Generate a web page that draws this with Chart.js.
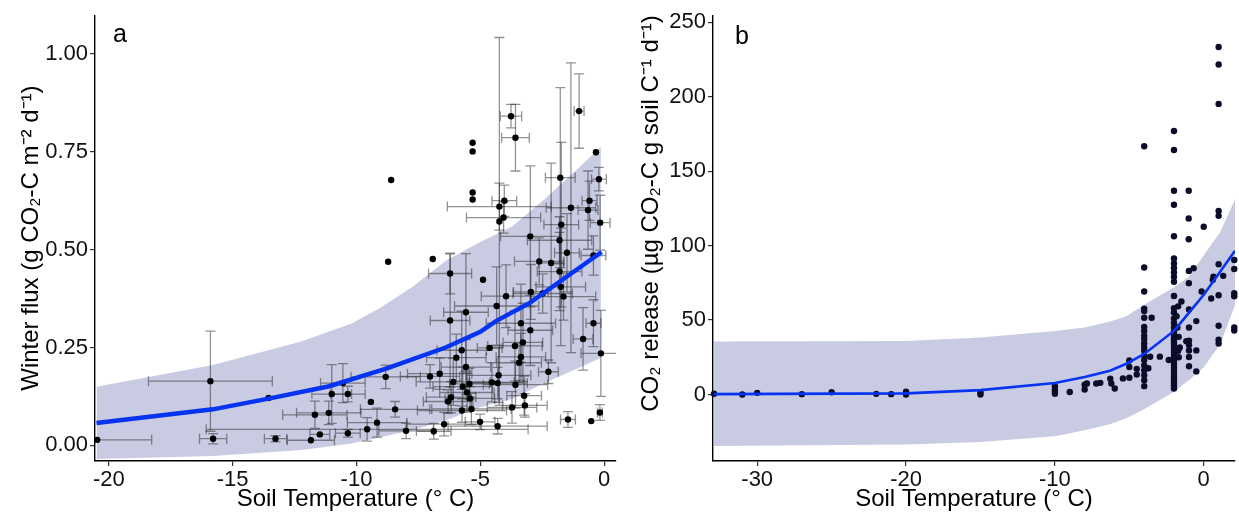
<!DOCTYPE html>
<html><head><meta charset="utf-8">
<script src="https://cdn.jsdelivr.net/npm/chart.js@4.4.1/dist/chart.umd.min.js"></script>
<style>
html,body{margin:0;padding:0;background:#fff;width:1239px;height:522px;overflow:hidden}
#wa{position:absolute;left:0;top:0;width:620px;height:522px}
#wb{position:absolute;left:620px;top:0;width:619px;height:522px}
</style></head><body>
<div id="wa"><canvas id="ca"></canvas></div>
<div id="wb"><canvas id="cb"></canvas></div>
<script>
// ---------- Panel a data ----------
const aTempTicks = [-20, -15, -10, -5, 0];
const aFluxTicks = [0, 0.25, 0.5, 0.75, 1.0];
const aTemp = [-20.47,-15.9,-15.79,-13.55,-13.27,-11.84,-11.68,-11.48,-11.12,-11.0,
-10.55,-10.35,-10.35,-9.42,-9.57,-9.17,-8.82,-8.44,-8.72,-8.6,
-8.0,-7.03,-6.92,-6.88,-6.64,-6.46,-6.3,-6.22,-6.22,-6.18,
-6.09,-5.97,-5.75,-5.74,-5.71,-5.58,-5.58,-5.54,-5.44,-5.42,
-5.36,-5.31,-5.31,-5.31,-5.31,-5.01,-4.89,-4.62,-4.53,-4.34,
-4.3,-4.3,-4.26,-4.23,-4.23,-4.06,-4.03,-3.96,-3.76,-3.72,
-3.58,-3.6,-3.58,-3.43,-3.36,-3.36,-3.28,-3.23,-3.2,-2.98,
-2.98,-2.96,-2.62,-2.48,-2.25,-2.14,-1.8,-1.77,-1.73,-1.8,
-1.75,-1.64,-1.5,-1.46,-1.34,-1.01,-0.85,-0.65,-0.59,-0.52,
-0.43,-0.43,-0.33,-0.21,-0.16,-0.17,-0.13];
const aFlux = [0.014,0.164,0.017,0.121,0.017,0.013,0.078,0.028,0.083,0.131,
0.159,0.131,0.031,0.111,0.041,0.058,0.175,0.092,0.469,0.678,
0.037,0.176,0.476,0.036,0.183,0.054,0.112,0.439,0.319,0.123,
0.162,0.224,0.243,0.089,0.15,0.34,0.2,0.135,0.157,0.12,
0.093,0.773,0.751,0.646,0.628,0.06,0.423,0.249,0.161,0.356,
0.159,0.049,0.179,0.61,0.572,0.582,0.625,0.381,0.841,0.097,
0.786,0.254,0.155,0.211,0.312,0.226,0.263,0.127,0.102,0.534,
0.294,0.392,0.47,0.388,0.188,0.466,0.524,0.684,0.564,0.444,
0.405,0.38,0.492,0.066,0.607,0.854,0.272,0.601,0.625,0.062,
0.485,0.312,0.749,0.68,0.569,0.084,0.235];
const aTempErr = [2.2,2.5,0.55,0,0.45,0.95,1.3,0.4,1.3,0.8,
0.9,0.7,0.5,0,6.5,1.2,1.4,1.4,0,0,
1.1,1.2,0,0.7,1.3,1.5,1.0,0.87,0.8,1.0,
1.5,1.2,1.0,1.8,1.2,0.9,1.0,1.1,0.8,1.0,
1.6,0,0,0,0,0.6,0,0.5,0.9,1.7,
1.2,2.0,1.3,2.1,0,1.5,0.5,1.0,0.43,1.0,
0.56,1.1,1.3,0.9,1.4,1.0,0.8,0.7,0.9,1.2,
0.9,0.7,1.0,1.2,0.4,0.5,1.3,0.6,0.7,0.9,
1.0,1.3,0.5,0.3,1.0,0.2,0.4,0.4,0.3,0,
0.5,0.3,0,0.3,0.4,0.1,0.8];
const aFluxErr = [0,0.128,0.013,0,0.008,0,0.035,0,0.03,0.075,
0.05,0.02,0.01,0,0.03,0.037,0.03,0.02,0,0,
0.02,0.03,0,0.02,0.04,0.03,0.03,0.052,0.17,0.04,
0.06,0.06,0.1,0.03,0.05,0.15,0.07,0.05,0.04,0.03,
0.04,0,0,0,0,0.02,0,0,0.05,0.1,
0.04,0.02,0.07,0.06,0.47,0.04,0.04,0.08,0.03,0.04,
0.085,0.09,0.06,0.05,0.1,0.06,0.1,0.05,0.03,0.18,
0.09,0.07,0.06,0.05,0.03,0.255,0.06,0.23,0.21,0.1,
0.15,0.06,0.1,0.02,0.37,0.095,0.08,0.1,0.05,0,
0.05,0.06,0,0.03,0.07,0.02,0.11];
const aFitTemp = [-20.5,-15.8,-13.5,-11.1,-8.8,-6.4,-5.0,-4.35,-3.0,-1.8,-0.1];
const aFitFlux = [0.057,0.092,0.12,0.151,0.196,0.25,0.29,0.318,0.364,0.418,0.494];
const aBandTemp = [-20.5,-15.8,-12.2,-10.2,-9.07,-7.73,-6.38,-5.04,-3.7,-2.35,-1.01,-0.13];
const aBandHi = [0.150,0.205,0.266,0.311,0.35,0.405,0.472,0.518,0.56,0.632,0.71,0.763];
const aBandLo = [-0.035,-0.027,-0.012,0.005,0.02,0.039,0.064,0.097,0.119,0.161,0.198,0.224];

// ---------- Panel b data ----------
const bTempTicks = [-30, -20, -10, 0];
const bReleaseTicks = [0, 50, 100, 150, 200, 250];
const bTemp = [-32.9,-31,-30,-27,-25,-22,-21,-20,-20,-15,-15,
-10,-10,-10,-10,-9,-8,-8,-7.85,-7.22,-6.95,-6.28,-6.21,-5.98,-5.43,-5,-5,-5,-4.5,-4.5,
-4,-4,-4,-4,-4,-4,-4,-4,-4,-4,-4,-4,-4,-4,-4,-4,-4,-4,-4,-4,
-3.5,-3.72,-3.6,-2.95,-2.35,
-2,-2,-2,-2,-2,-2,-2,-2,-2,-2,-2,-2,-2,-2,-2,-2,-2,-2,-2,-2,-2,-2,-2,-2,-2,-2,-2,-2,-2,-2,-2,-2,-2,-2,-2,-2,-2,
-1.72,-1.5,-1.83,-1.77,-1.68,-1.68,-1.72,-1.61,
-1.01,-1.01,-1.01,-1,-0.68,-1,-0.99,-0.99,-0.99,-0.99,-0.99,-0.99,-0.99,-1.17,-0.5,-0.5,-0.5,-0.14,0,
1,1,1,1,1,1,1,1,1,1,0.61,0.5,0.65,1.31,
2.05,2.05,2.05,2.05,2.05,2.05];
const bRelease = [0.5,0,1.1,0.2,1.5,0.4,0.2,1.8,0,1.5,0,
5.5,3.3,1.8,0.4,1.7,6.6,3.3,7.4,7.4,7.8,10.6,7.4,4,10.8,11.2,18.5,22.8,17.2,13.4,
166.8,85.3,69.2,57.7,56,51.5,45.3,42.7,39.4,37.2,34.3,31.6,29.4,26.1,23.2,19.5,16.2,12.9,9.6,5.6,
51.5,17.6,25.3,25.4,23.2,
177,164.2,136.9,127.5,106.3,91.3,88,85,82,79,75.7,66.2,58,55,51,48,45,42,40,38,36,34,32,30,28,26,24,22,20,18,16,14,12,10,8,6,4,
59.2,62.5,52.6,45,38.7,25,29.4,31.6,
136.9,118.2,104.3,83,84.8,74.8,57.1,45,36.2,33.3,29.6,25.2,19,35.8,49.3,29.6,15.5,69.2,112.7,
233.4,221.7,195.2,123.3,120,87.5,66.7,46.2,36.8,34.2,77,64.5,79.1,79.7,
90.3,84.3,68,66,45,43];
const bFitTemp = [-32.9,-20,-15,-10,-8,-6.3,-5.2,-4,-2,-1,0,1.1,2.1];
const bFitRelease = [0.2,0.7,2.9,7.7,11.7,16,20.6,27.2,42.7,54.8,67,82.5,96.5];
const bBandHi = [35.6,36,38.2,42.7,45,49,52.6,60.3,72,79.1,93.5,109,131];
const bBandLo = [-34.7,-33.6,-32,-28.1,-24,-20,-16,-10,1.8,9.5,18.3,33.8,60];

// ---------- styling ----------
const FONT = '"Liberation Sans", Arial, sans-serif';
const BLUE = 'rgb(6,52,242)';
const BAND = 'rgb(201,203,227)';
const tickFont = {family: FONT, size: 22};
const titleFont = {family: FONT, size: 24};

const pts = (xs, ys) => xs.map((x, i) => ({x: x, y: ys[i]}));
const fixedTicks = arr => s => { s.ticks = arr.map(v => ({value: v})); };

const errorBars = {
  id: 'errorBars',
  beforeDatasetDraw(chart, args) {
    const ds = chart.data.datasets[args.index];
    if (!ds.xErr) return;
    const {ctx, chartArea: ca} = chart;
    const xs = chart.scales.x, ys = chart.scales.y;
    ctx.save();
    ctx.beginPath(); ctx.rect(ca.left, ca.top, ca.right - ca.left, ca.bottom - ca.top); ctx.clip();
    ctx.strokeStyle = 'rgba(40,40,40,0.5)';
    ctx.lineWidth = 1.3;
    const cap = 5;
    ds.data.forEach((p, i) => {
      const px = xs.getPixelForValue(p.x), py = ys.getPixelForValue(p.y);
      const xe = ds.xErr[i], ye = ds.yErr[i];
      ctx.beginPath();
      if (xe > 0) {
        const l = xs.getPixelForValue(p.x - xe), r = xs.getPixelForValue(p.x + xe);
        ctx.moveTo(l, py); ctx.lineTo(r, py);
        ctx.moveTo(l, py - cap); ctx.lineTo(l, py + cap);
        ctx.moveTo(r, py - cap); ctx.lineTo(r, py + cap);
      }
      if (ye > 0) {
        const t = ys.getPixelForValue(p.y + ye), b = ys.getPixelForValue(p.y - ye);
        ctx.moveTo(px, t); ctx.lineTo(px, b);
        ctx.moveTo(px - cap, t); ctx.lineTo(px + cap, t);
        ctx.moveTo(px - cap, b); ctx.lineTo(px + cap, b);
      }
      ctx.stroke();
    });
    ctx.restore();
  }
};

const panelLabel = {
  id: 'panelLabel',
  afterDraw(chart, args, opts) {
    const {ctx, chartArea} = chart;
    ctx.save();
    ctx.font = '25px ' + FONT;
    ctx.fillStyle = '#000';
    ctx.textAlign = 'center';
    ctx.textBaseline = 'middle';
    ctx.fillText(opts.text, chartArea.left + opts.dx, chartArea.top + opts.dy);
    ctx.restore();
  }
};

function axis(min, max, ticks, fmt, title, isX, titleAlign, titlePad) {
  return {
    type: 'linear', min: min, max: max,
    afterBuildTicks: fixedTicks(ticks),
    afterFit: isX ? (s => { s.height = 61; }) : null,
    ticks: {font: tickFont, color: '#111', padding: isX ? 1 : 2, maxRotation: 0, autoSkip: false, callback: fmt},
    grid: {drawOnChartArea: false, drawTicks: true, tickLength: 5, color: '#333', lineWidth: 1.2},
    border: {display: true, color: '#000', width: 1.4},
    title: {display: true, text: title, font: titleFont, color: '#000', align: titleAlign, padding: titlePad}
  };
}

function makeChart(id, cfg) {
  return new Chart(document.getElementById(id), {
    type: 'scatter',
    data: {datasets: [
      {label: 'fit', data: pts(cfg.fitX, cfg.fitY), showLine: true, borderColor: BLUE, borderWidth: cfg.lw,
       pointRadius: 0, fill: false, order: 0, tension: 0},
      {label: 'obs', data: pts(cfg.x, cfg.y), xErr: cfg.xErr, yErr: cfg.yErr, pointRadius: 3.2,
       backgroundColor: cfg.pc, borderWidth: 0, order: 1, clip: false},
      {label: 'upper', data: pts(cfg.fitX2 || cfg.fitX, cfg.hi), showLine: true, borderWidth: 0, pointRadius: 0,
       backgroundColor: BAND, borderColor: BAND, fill: '+1', order: 2},
      {label: 'lower', data: pts(cfg.fitX2 || cfg.fitX, cfg.lo), showLine: true, borderWidth: 0, pointRadius: 0,
       backgroundColor: BAND, borderColor: BAND, fill: false, order: 3}
    ]},
    options: {
      responsive: true, maintainAspectRatio: false, animation: false, devicePixelRatio: 1, events: [],
      layout: {padding: cfg.pad},
      plugins: {legend: {display: false}, tooltip: {enabled: false},
                panelLabel: cfg.label},
      scales: {
        x: cfg.xAxis,
        y: Object.assign(cfg.yAxis, {afterFit: s => { s.width = cfg.yw; }})
      }
    },
    plugins: [errorBars, panelLabel]
  });
}

makeChart('ca', {
  x: aTemp, y: aFlux, xErr: aTempErr, yErr: aFluxErr, pc: '#000',
  fitX: aFitTemp, fitY: aFitFlux, fitX2: aBandTemp, hi: aBandHi, lo: aBandLo, lw: 4.5,
  pad: {top: 10, right: 3, left: 0, bottom: 0}, yw: 95,
  label: {text: 'a', dx: 25, dy: 20},
  xAxis: axis(-20.56, 0.48, aTempTicks, v => String(v), 'Soil Temperature (° C)', true, 'center', {top: 2, bottom: 8}),
  yAxis: axis(-0.04, 1.099, aFluxTicks, v => Number(v).toFixed(2), 'Winter flux (g CO₂-C m⁻² d⁻¹)', false, 'center', {top: 17, bottom: 0})
});

makeChart('cb', {
  x: bTemp, y: bRelease, xErr: null, yErr: null, pc: '#0b0b2a',
  fitX: bFitTemp, fitY: bFitRelease, hi: bBandHi, lo: bBandLo, lw: 2.6,
  pad: {top: 10, right: 0, left: 0, bottom: 0}, yw: 93,
  label: {text: 'b', dx: 29, dy: 22},
  xAxis: axis(-32.97, 2.1, bTempTicks, v => String(v), 'Soil Temperature (° C)', true, 'center', {top: 2, bottom: 8}),
  yAxis: axis(-44.7, 254.8, bReleaseTicks, v => String(v), 'CO₂ release (µg CO₂-C g soil C⁻¹ d⁻¹)', false, 'end', {top: 17, bottom: 0})
});
</script>
</body></html>
